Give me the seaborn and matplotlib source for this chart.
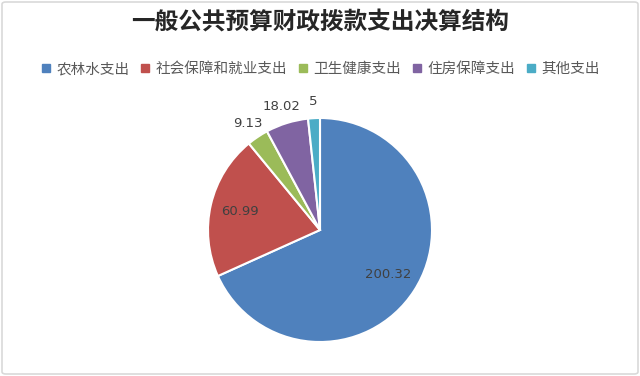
import numpy as np
import matplotlib
matplotlib.use("Agg")
import matplotlib.pyplot as plt
import seaborn as sns
from matplotlib.lines import Line2D
from matplotlib.patches import FancyBboxPatch

categories = ["农林水支出", "社会保障和就业支出", "卫生健康支出", "住房保障支出", "其他支出"]
values = [200.32, 60.99, 9.13, 18.02, 5]
value_labels = ["200.32", "60.99", "9.13", "18.02", "5"]
colors = ["#4F81BD", "#C0504D", "#9BBB59", "#8064A2", "#4BACC6"]
title = "一般公共预算财政拨款支出决算结构"

sns.set_theme(style="white")
plt.rcParams['font.family'] = ['Noto Sans CJK SC', 'DejaVu Sans']

W, H = 640, 376
fig = plt.figure(figsize=(W / 100, H / 100), dpi=100)
fig.patch.set_facecolor("white")

# frame
fig.patches.append(FancyBboxPatch((2 / W, 2 / H), 1 - 4 / W, 1 - 4 / H,
                                  boxstyle="round,pad=0,rounding_size=0.006",
                                  transform=fig.transFigure, facecolor="none",
                                  edgecolor="#d9d9d9", linewidth=1.2))

cx, cy, r = 320, 230, 112
ax = fig.add_axes([(cx - r) / W, (H - cy - r) / H, 2 * r / W, 2 * r / H])
wedges, _ = ax.pie(values, colors=colors, startangle=90, counterclock=False,
                   wedgeprops=dict(edgecolor="white", linewidth=1.5))
ax.set_aspect("equal")
ax.set_xlim(-1, 1)
ax.set_ylim(-1, 1)
ax.axis("off")

total = sum(values)
for w, lab, v in zip(wedges, value_labels, values):
    ang = np.deg2rad((w.theta1 + w.theta2) / 2)
    d = 0.73 if v / total > 0.1 else 1.15
    ax.text(d * np.cos(ang), d * np.sin(ang), lab, ha="center", va="center",
            fontsize=9.5, color="#404040", family=['DejaVu Sans'], clip_on=False)

fig.text(0.5, 1 - 22 / H, title, ha="center", va="center", fontsize=17,
         fontweight="bold", color="#262626")

handles = [Line2D([0], [0], marker="s", linestyle="none", markersize=6,
                  markerfacecolor=c, markeredgecolor=c) for c in colors]
fig.legend(handles, categories, loc="center", bbox_to_anchor=(0.5, 1 - 69 / H),
           ncol=5, frameon=False, fontsize=10.5, handlelength=0.8,
           handletextpad=0.3, columnspacing=0.7, labelcolor="#595959",
           borderpad=0, borderaxespad=0)

fig.savefig("out.png", dpi=100)
